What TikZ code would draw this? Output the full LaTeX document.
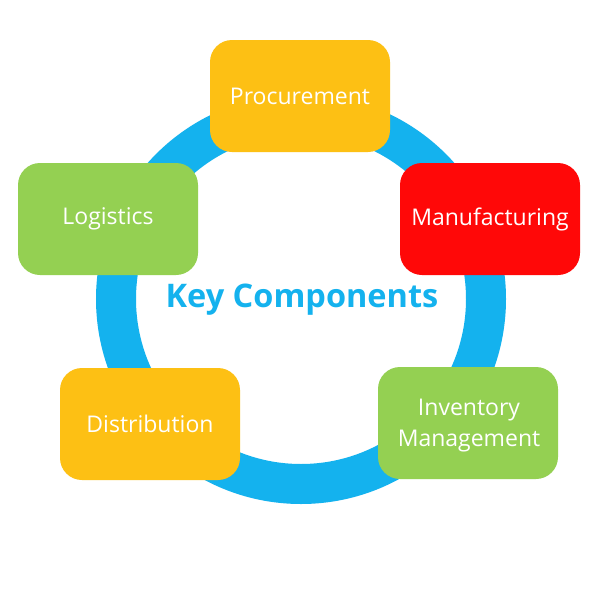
\documentclass[tikz,border=0pt]{standalone}
\usepackage{fontspec}
\setmainfont{Open Sans}
\definecolor{ringblue}{RGB}{20,178,238}
\definecolor{boxorange}{RGB}{253,192,20}
\definecolor{boxgreen}{RGB}{148,208,82}
\definecolor{boxred}{RGB}{255,8,8}
\tikzset{
  comp/.style={rectangle, rounded corners=22pt, minimum width=180pt, minimum height=112pt,
    text=white, font=\fontsize{23}{31}\selectfont, align=center, inner sep=0pt},
}
\begin{document}
\begin{tikzpicture}[x=1pt,y=-1pt]
\useasboundingbox[fill=white] (0,0) rectangle (600,600);
\coordinate (c) at (301,299);
\draw[ringblue, line width=40pt] (c) circle[radius=185pt];
\node[comp, fill=boxorange] (proc) at (300,96) {Procurement};
\node[comp, fill=boxgreen] (logi) at (108,219) {Logistics};
\node[comp, fill=boxred] (manu) at (490,219) {Manufacturing};
\node[comp, fill=boxorange] (dist) at (150,424) {Distribution};
\node[comp, fill=boxgreen] (inve) at (468,423) {};
\node[text=white, font=\fontsize{23}{31}\selectfont, align=center] (invetext) at (469,426) {Inventory\\Management};
\node[text=ringblue, font=\fontsize{32.5}{38}\selectfont\bfseries] (key) at (302,300) {Key Components};
\end{tikzpicture}
\end{document}
